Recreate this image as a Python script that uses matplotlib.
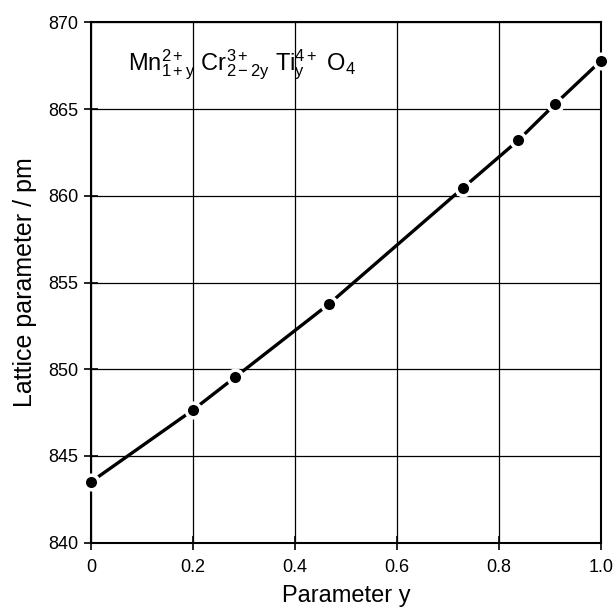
import matplotlib
matplotlib.use("Agg")
import matplotlib.pyplot as plt

# data
param_y = [0.0, 0.2, 0.283, 0.466, 0.729, 0.8375, 0.91, 1.0]
lattice = [843.5, 847.65, 849.55, 853.75, 860.45, 863.2, 865.3, 867.8]
xticks = [0, 0.2, 0.4, 0.6, 0.8, 1.0]
xtick_labels = ["0", "0.2", "0.4", "0.6", "0.8", "1.0"]
yticks = [840, 845, 850, 855, 860, 865, 870]

plt.rcParams['font.family'] = ['Liberation Sans', 'DejaVu Sans']
plt.rcParams['mathtext.fontset'] = 'custom'
plt.rcParams['mathtext.rm'] = 'Liberation Sans'
plt.rcParams['mathtext.it'] = 'Liberation Sans'

fig = plt.figure(figsize=(6.14, 6.07), dpi=100)
ax = fig.add_axes([0.148, 0.106, 0.831, 0.857])

ax.plot(param_y, lattice, color='black', linewidth=2.4, zorder=3)
ax.plot(param_y, lattice, linestyle='none', marker='o', markersize=10.5,
        markerfacecolor='black', markeredgecolor='white', markeredgewidth=2.5,
        zorder=4, clip_on=False)

ax.set_xlim(0, 1.0)
ax.set_ylim(840, 870)
ax.set_xticks(xticks)
ax.set_xticklabels(xtick_labels)
ax.set_yticks(yticks)
ax.grid(True, color='black', linewidth=0.9)
ax.tick_params(direction='inout', length=10, width=1.2, labelsize=13, pad=4)
ax.tick_params(axis='x', pad=7)
for s in ax.spines.values():
    s.set_linewidth(1.5)

ax.set_xlabel('Parameter y', fontsize=17, labelpad=6)
ax.set_ylabel('Lattice parameter / pm', fontsize=18, labelpad=8)

ax.text(0.073, 0.918,
        r'$\mathrm{Mn}^{2+}_{1+y}\ \mathrm{Cr}^{3+}_{2-2y}\ \mathrm{Ti}^{4+}_{y}\ \mathrm{O}_4$',
        transform=ax.transAxes, fontsize=17, va='center', ha='left')

fig.savefig('out.png', dpi=100)
